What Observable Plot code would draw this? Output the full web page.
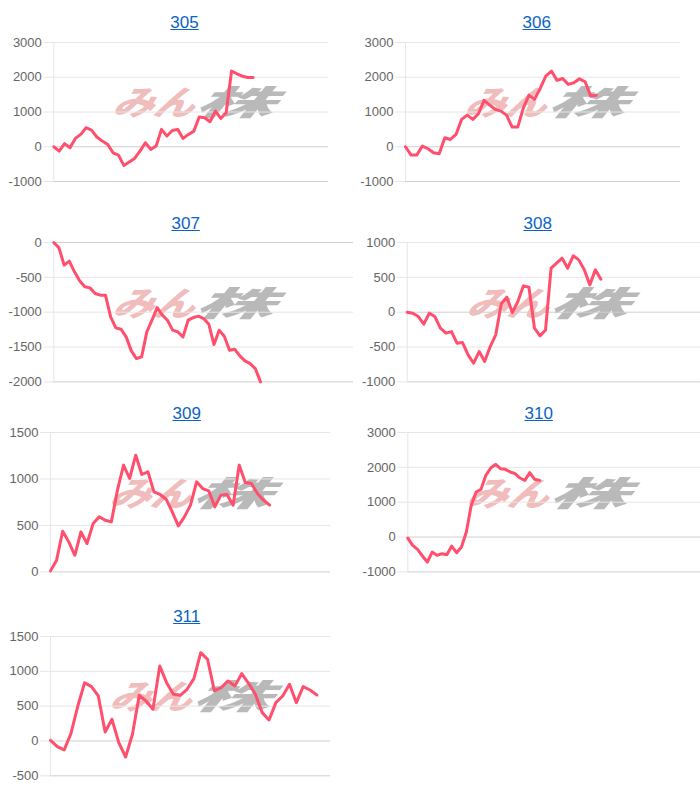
<!DOCTYPE html>
<html><head><meta charset="utf-8">
<script src="https://cdn.jsdelivr.net/npm/d3@7"></script>
<script src="https://cdn.jsdelivr.net/npm/@observablehq/plot@0.6"></script>
<style>
body{margin:0;background:#fff;font-family:"Liberation Sans",Arial,sans-serif;}
#root{position:relative;width:700px;height:792px;overflow:hidden;background:#fff;}
.title{position:absolute;color:#0b63c6;text-decoration:underline;font-size:17px;line-height:17px;transform:translateX(-50%);white-space:nowrap;}
.wm{position:absolute;white-space:nowrap;font-family:"Noto Sans CJK JP",sans-serif;font-weight:900;font-style:italic;font-size:34px;line-height:34px;}
.wm span{display:inline-block;transform-origin:left top;}
.panel{position:absolute;}
.panel svg{overflow:visible;background:transparent;}
</style>
</head><body><div id="root"></div>
<script>
const panelNames = ["305","306","307","308","309","310","311"];
const s305 = [0,-125,90,-30,240,355,547,480,280,163,67,-173,-240,-537,-440,-335,-125,115,-77,20,500,307,470,500,240,355,450,855,835,720,1025,815,980,2180,2100,2030,1995,1995];
const s306 = [0,-240,-240,20,-58,-173,-200,260,210,355,787,910,787,950,1333,1200,1075,1025,910,565,565,1120,1487,1362,1680,2035,2180,1910,1965,1795,1840,1955,1870,1460,1480];
const s307 = [0,-77,-325,-268,-421,-550,-636,-651,-732,-756,-756,-1067,-1225,-1244,-1354,-1555,-1665,-1641,-1282,-1115,-933,-1043,-1115,-1258,-1282,-1354,-1115,-1077,-1057,-1091,-1172,-1464,-1258,-1344,-1545,-1531,-1627,-1699,-1737,-1809,-2000];
const s308 = [0,-14,-62,-172,-14,-62,-230,-301,-278,-445,-435,-612,-732,-565,-708,-493,-325,120,215,-5,153,378,359,-230,-340,-254,632,703,775,632,809,751,608,392,608,474];
const s309 = [11,126,438,323,179,431,305,520,592,556,538,880,1149,1005,1256,1048,1077,861,833,782,646,495,592,718,969,897,872,700,826,833,718,1149,962,951,844,772,718];
const s310 = [-29,-239,-354,-545,-718,-431,-526,-478,-507,-258,-450,-287,144,909,1292,1368,1770,1981,2086,1962,1943,1866,1818,1694,1627,1847,1656,1627];
const s311 = [10,-81,-129,110,502,837,780,646,129,311,-24,-230,96,655,574,455,1077,837,670,655,742,895,1268,1172,718,766,861,790,967,828,670,407,301,550,646,813,550,780,732,660];
const seriesList = [s305,s306,s307,s308,s309,s310,s311];
const xSlots = [52,50,59,54,47,61,42];
const yTicks305 = [-1000,0,1000,2000,3000];
const yTicks306 = [-1000,0,1000,2000,3000];
const yTicks307 = [-2000,-1500,-1000,-500,0];
const yTicks308 = [-1000,-500,0,500,1000];
const yTicks309 = [0,500,1000,1500];
const yTicks310 = [-1000,0,1000,2000,3000];
const yTicks311 = [-500,0,500,1000,1500];
const tickList = [yTicks305,yTicks306,yTicks307,yTicks308,yTicks309,yTicks310,yTicks311];

// layout: svgLeft, axisX, rightX, plotTop, plotBottom, titleCx, titleTop
const layout = [
  [0, 53.3, 328, 41.7, 180.7, 184.5, 14],
  [350, 405, 680, 41.7, 180.7, 536.7, 14],
  [0, 53.3, 353, 242.3, 381.7, 185.7, 215],
  [350, 406.7, 700, 242.3, 381.7, 537.7, 215],
  [0, 50, 330, 432.3, 571.7, 186.7, 405],
  [350, 407.3, 700, 432.3, 571.7, 538.7, 405],
  [0, 50, 330, 635.7, 775, 186.7, 608]
];

const root = document.getElementById("root");
const M = 10;
panelNames.forEach((name, k) => {
  const [svgLeft, axisX, rightX, top, bottom, tcx, ttop] = layout[k];
  const data = seriesList[k];
  const ticks = tickList[k];
  const lo = ticks[0], hi = ticks[ticks.length - 1];

  // watermark
  const wm = document.createElement("div");
  wm.className = "wm";
  wm.style.left = (axisX + 66) + "px";
  wm.style.top = ((top + bottom) / 2 - 27) + "px";
  wm.innerHTML = '<span style="color:#f0bcbc;transform:skewX(-14deg) scaleX(1.2)">みん</span><span style="color:#b9b9b9;transform:skewX(-14deg) scaleX(2.3);margin-left:14px">株</span>';
  root.appendChild(wm);

  const chart = Plot.plot({
    width: rightX - svgLeft,
    height: bottom - top + 2 * M,
    marginLeft: axisX - svgLeft,
    marginRight: 0,
    marginTop: M,
    marginBottom: M,
    style: {background: "transparent", fontFamily: "Liberation Sans, Arial, sans-serif", overflow: "visible"},
    x: {domain: [0, xSlots[k] - 1], axis: null},
    y: {domain: [lo, hi], axis: null},
    marks: [
      Plot.ruleY(ticks, {stroke: d => (d === 0 || d === lo) ? "#cfcfcf" : "#e6e6e6", strokeWidth: 1}),
      Plot.ruleX([0], {stroke: "#e6e6e6"}),
      Plot.axisY({ticks, tickSize: 10, tickPadding: 2, stroke: "#e6e6e6", fill: "#666", fontSize: 13, tickFormat: d => String(d)}),
      Plot.line(data, {x: (d, i) => i, y: d => d, stroke: "#ff4f6d", strokeWidth: 3, strokeLinejoin: "round"})
    ]
  });
  const wrap = document.createElement("div");
  wrap.className = "panel";
  wrap.style.left = svgLeft + "px";
  wrap.style.top = (top - M) + "px";
  wrap.appendChild(chart);
  root.appendChild(wrap);

  const t = document.createElement("div");
  t.className = "title";
  t.textContent = name;
  t.style.left = tcx + "px";
  t.style.top = ttop + "px";
  root.appendChild(t);
});
</script>
</body></html>
